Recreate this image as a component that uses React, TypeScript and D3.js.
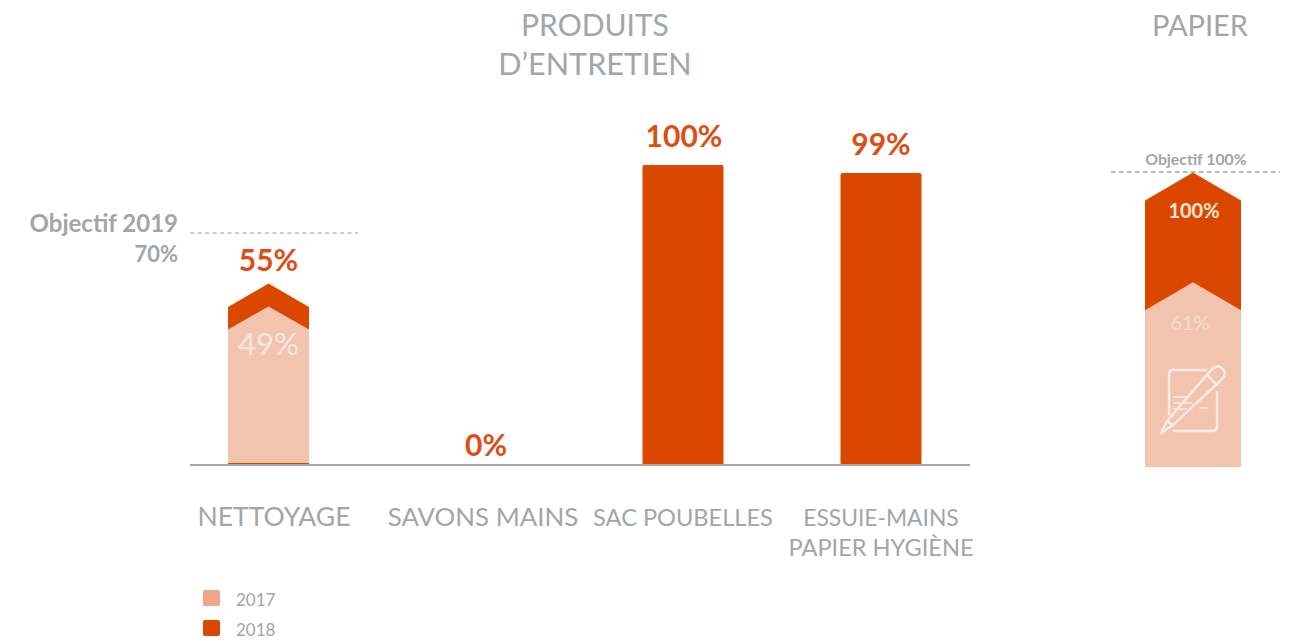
import React from "react";
import * as d3 from "d3";

// Cleaning products panel
const categories = ["NETTOYAGE", "SAVONS MAINS", "SAC POUBELLES", "ESSUIE-MAINS"];
const categorySecondLine = ["", "", "", "PAPIER HYGIÈNE"];
const values2017: (number | null)[] = [49, null, null, null];
const values2018 = [55, 0, 100, 99];
const goalProducts = 70;

// Paper panel
const paperValue2017 = 61;
const paperValue2018 = 100;
const paperGoal = 100;

const legendYears = ["2017", "2018"];

const DARK = "#DC4700";
const LIGHT = "#F2C3AE";
const LEGEND_LIGHT = "#EFA68B";
const GREY = "#A3A5A8";
const AXIS = "#A8A8AC";
const VALUE_TEXT = "#DC4F14";
const FONT = "Lato, 'Noto Sans', sans-serif";

const BASE_Y = 465;
const BAR_W = 81;

// The products panel is an infographic, not one straight axis: its heights bend
// between these value stops.
const yProducts = d3
  .scaleLinear()
  .domain([0, 49, 55, 70, 99, 100])
  .range([BASE_Y, 318, 295.5, 233, 173, 165]);

const xProducts = d3
  .scaleOrdinal<string, number>()
  .domain(categories)
  .range([268.5, 486, 683, 881]);

const labelX = d3
  .scaleOrdinal<string, number>()
  .domain(categories)
  .range([274, 483, 683, 881]);

// Category captions are set to fit their columns, so each has its own size.
const labelSize = d3
  .scaleOrdinal<string, number>()
  .domain(categories)
  .range([26.5, 25.9, 23.6, 22.8]);

const PAPER_BASE = 467;
const yPaper = d3.scaleLinear().domain([0, 100]).range([PAPER_BASE, 185.5]);
const PAPER_X = 1193;
const PAPER_W = 96;

// Column whose top is a chevron: apex above the value height, shoulders below it.
function chevronColumn(cx: number, w: number, y: number, base: number, up: number, down: number) {
  const p = d3.path();
  p.moveTo(cx - w / 2, base);
  p.lineTo(cx - w / 2, y + down);
  p.lineTo(cx, y - up);
  p.lineTo(cx + w / 2, y + down);
  p.lineTo(cx + w / 2, base);
  p.closePath();
  return p.toString();
}

function PaperIcon() {
  const s = { fill: "none", stroke: "#FBEDE6", strokeWidth: 2.4, strokeLinecap: "round" as const, strokeLinejoin: "round" as const };
  return (
    <g {...s}>
      <path d="M1206 370 H1173 Q1169 370 1169 374 V414 M1217 392 V426 Q1217 431 1212 431 H1174" />
      <path d="M1174 397 H1188 M1174 403 H1192 M1174 409 H1186 M1200 408 H1208" strokeWidth={1.6} />
      <path d="M1212 369 Q1219 364 1223 369 Q1227 374 1222 379 L1173 425 L1161 433 L1167 421 Z" />
      <path d="M1207 375 L1217 385 M1167 421 L1173 425" />
    </g>
  );
}

export default function App() {
  return (
    <svg
      width={1294}
      height={641}
      viewBox="0 0 1294 641"
      style={{ position: "absolute", left: 0, top: 0, background: "#fff" }}
      fontFamily={FONT}
    >
      {/* Panel titles */}
      <g fill={GREY} textAnchor="middle">
        <text x={595} y={36} fontSize={30}>PRODUITS</text>
        <text x={595} y={75} fontSize={30.6}>D’ENTRETIEN</text>
        <text x={1200} y={36} fontSize={29}>PAPIER</text>
      </g>

      {/* Goal for the products panel */}
      <line x1={190} x2={358} y1={yProducts(goalProducts)} y2={yProducts(goalProducts)} stroke="#BDBEC0" strokeWidth={1.3} strokeDasharray="4 3.5" />
      <g fill={GREY} fontWeight={700} textAnchor="end">
        <text x={178} y={232} fontSize={24}>Objectif 2019</text>
        <text x={178} y={262} fontSize={22}>{goalProducts}%</text>
      </g>

      {/* Product columns */}
      {categories.map((c, i) => {
        const cx = xProducts(c);
        const v17 = values2017[i];
        const v18 = values2018[i];
        const y18 = yProducts(v18);
        const hasChevron = v17 !== null;
        return (
          <g key={c}>
            {hasChevron ? (
              <>
                <path d={chevronColumn(cx, BAR_W, y18, BASE_Y, 12, 11.5)} fill={DARK} />
                <path d={chevronColumn(cx, BAR_W, yProducts(v17 as number), BASE_Y - 2, 11.5, 11.5)} fill={LIGHT} />
                <text x={cx} y={355} fill="#F9E6DC" fontSize={31} textAnchor="middle">{v17}%</text>
              </>
            ) : v18 > 0 ? (
              <rect x={cx - BAR_W / 2} y={y18} width={BAR_W} height={BASE_Y - y18} rx={2} fill={DARK} />
            ) : null}
            <text
              x={cx + (i === 2 ? 1 : 0)}
              y={hasChevron ? 271 : v18 === 0 ? y18 - 9 : y18 - 18}
              fill={VALUE_TEXT}
              fontSize={30}
              fontWeight={700}
              textAnchor="middle"
            >
              {v18}%
            </text>
            <g fill={GREY} fontSize={labelSize(c)} textAnchor="middle">
              <text x={labelX(c)} y={526}>{c}</text>
              {categorySecondLine[i] && <text x={labelX(c)} y={556} fontSize={23.6}>{categorySecondLine[i]}</text>}
            </g>
          </g>
        );
      })}

      {/* Baseline */}
      <line x1={190} x2={970} y1={BASE_Y} y2={BASE_Y} stroke={AXIS} strokeWidth={2} />

      {/* Paper column */}
      <path d={chevronColumn(PAPER_X, PAPER_W, yPaper(paperValue2018), PAPER_BASE, 13, 15)} fill={DARK} />
      <path d={chevronColumn(PAPER_X, PAPER_W, yPaper(paperValue2017), PAPER_BASE, 13, 15)} fill={LIGHT} />
      <line x1={1111} x2={1280} y1={yPaper(paperGoal) - 13.5} y2={yPaper(paperGoal) - 13.5} stroke="#9FA1A5" strokeWidth={1.3} strokeDasharray="4.5 3.5" />
      <text x={1196} y={165} fill={GREY} fontSize={15.8} fontWeight={700} textAnchor="middle">Objectif {paperGoal}%</text>
      <text x={1194} y={218} fill="#FBE6DA" fontSize={20} fontWeight={700} textAnchor="middle">{paperValue2018}%</text>
      <text x={1190} y={330} fill="#F8DCCE" fontSize={20} textAnchor="middle">{paperValue2017}%</text>
      <PaperIcon />

      {/* Legend */}
      {legendYears.map((year, i) => (
        <g key={year}>
          <rect x={203} y={590 + i * 30} width={17} height={16} rx={2} fill={i === 0 ? LEGEND_LIGHT : DARK} />
          <text x={236} y={606 + i * 30} fill={GREY} fontSize={17}>{year}</text>
        </g>
      ))}
    </svg>
  );
}
